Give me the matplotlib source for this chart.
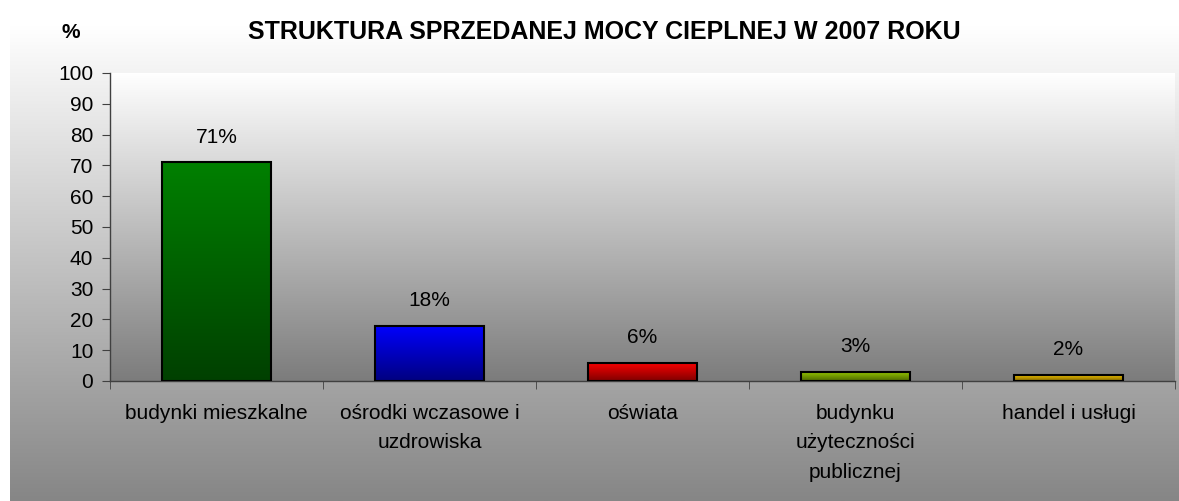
import numpy as np
import matplotlib
matplotlib.use('Agg')
import matplotlib.pyplot as plt
from matplotlib.colors import to_rgb, LinearSegmentedColormap

plt.rcParams['font.family'] = ['Liberation Sans', 'DejaVu Sans']

# data
categories = ['budynki mieszkalne', 'ośrodki wczasowe i\nuzdrowiska', 'oświata',
              'budynku\nużyteczności\npublicznej', 'handel i usługi']
values = [71, 18, 6, 3, 2]
labels = ['71%', '18%', '6%', '3%', '2%']
colors = ['#008000', '#0000ff', '#ff0000', '#99cc00', '#ffcc00']
yticks = list(range(0, 101, 10))

W, H = 1179, 501
fig = plt.figure(figsize=(W / 100, H / 100), dpi=100)
fig.patch.set_facecolor('white')

# chart area gradient (white at top -> gray at bottom)
bg = fig.add_axes([10 / W, 0, 1 - 10 / W, (H - 25) / H], zorder=0)
bg.axis('off')
grad = np.linspace(0, 1, 256).reshape(-1, 1)
cmap_bg = LinearSegmentedColormap.from_list('bg', ['#ffffff', '#868686'])
bg.imshow(grad, aspect='auto', cmap=cmap_bg, extent=[0, 1, 0, 1], origin='upper')

ax = fig.add_axes([110 / W, (H - 381) / H, (1175 - 110) / W, (381 - 73) / H], zorder=1)
ax.set_facecolor('none')

# plot area gradient
cmap_pa = LinearSegmentedColormap.from_list('pa', ['#ffffff', '#7c7c7c'])
ax.imshow(grad, aspect='auto', cmap=cmap_pa, extent=[0, 1, 0, 1], origin='upper',
          transform=ax.transAxes, zorder=0)

x = np.arange(len(categories))
bars = ax.bar(x, values, width=0.51, facecolor='none', edgecolor='black',
              linewidth=1.5, zorder=3)

for b, c, lab in zip(bars, colors, labels):
    top = np.array(to_rgb(c))
    cm = LinearSegmentedColormap.from_list('g', [top, top * 0.5])
    bx, bw, bh = b.get_x(), b.get_width(), b.get_height()
    ax.imshow(grad, aspect='auto', cmap=cm, origin='upper',
              extent=[bx, bx + bw, 0, bh], zorder=2)
    ax.annotate(lab, (bx + bw / 2, bh), xytext=(0, 18), textcoords='offset points',
                ha='center', va='center', fontsize=15)

ax.set_xlim(-0.5, len(categories) - 0.5)
ax.set_ylim(0, 100)
ax.set_yticks(yticks)
ax.set_xticks(x)
ax.set_xticklabels(categories, fontsize=15, linespacing=1.7)
ax.set_xticks(np.arange(-0.5, len(categories)), minor=True)
ax.tick_params(axis='x', which='major', length=0, pad=16.5)
ax.tick_params(axis='x', which='minor', length=6, color='#404040', direction='out')
ax.tick_params(axis='y', length=6, color='#404040', labelsize=15, pad=6)

for s in ['top', 'right']:
    ax.spines[s].set_visible(False)
for s in ['left', 'bottom']:
    ax.spines[s].set_color('#404040')
    ax.spines[s].set_linewidth(1)

fig.text(604 / W, 1 - 32 / H, 'STRUKTURA SPRZEDANEJ MOCY CIEPLNEJ W 2007 ROKU',
         ha='center', va='center', fontsize=18, fontweight='bold')
fig.text(71 / W, 1 - 33 / H, '%', ha='center', va='center', fontsize=15,
         fontweight='bold')

fig.savefig('out.png', dpi=100)
